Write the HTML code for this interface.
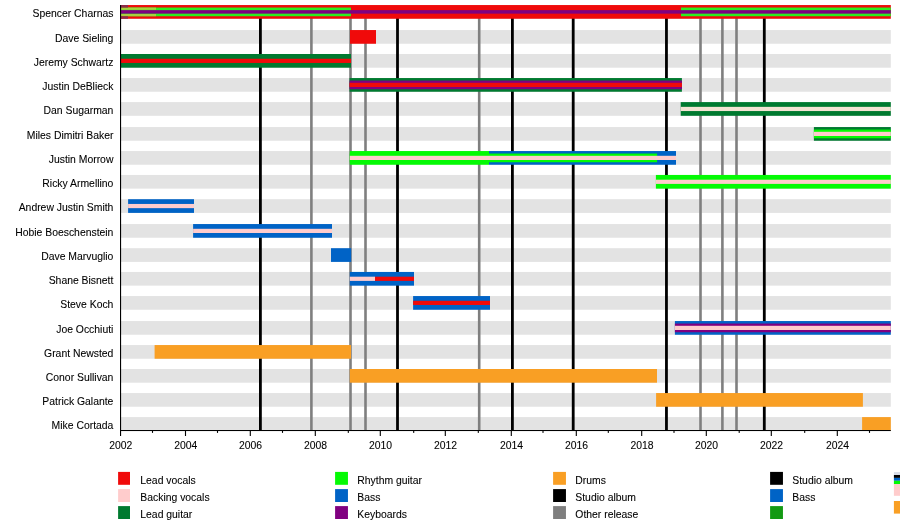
<!DOCTYPE html>
<html><head><meta charset="utf-8"><style>
html,body{margin:0;padding:0;background:#fff;width:900px;height:520px;overflow:hidden}
svg{display:block;will-change:transform}
text{font-family:"Liberation Sans",sans-serif;fill:#000;stroke:#000;stroke-width:0.08px}
</style></head><body>
<svg width="900" height="520" viewBox="0 0 900 520">
<rect x="0" y="0" width="900" height="520" fill="#fff"/>

<rect x="120.6" y="5.05" width="770.20" height="13.7" fill="#e3e3e3"/>
<rect x="120.6" y="30.05" width="770.20" height="13.7" fill="#e3e3e3"/>
<rect x="120.6" y="54.00" width="770.20" height="13.7" fill="#e3e3e3"/>
<rect x="120.6" y="78.05" width="770.20" height="13.7" fill="#e3e3e3"/>
<rect x="120.6" y="102.10" width="770.20" height="13.7" fill="#e3e3e3"/>
<rect x="120.6" y="127.05" width="770.20" height="13.7" fill="#e3e3e3"/>
<rect x="120.6" y="151.05" width="770.20" height="13.7" fill="#e3e3e3"/>
<rect x="120.6" y="174.95" width="770.20" height="13.7" fill="#e3e3e3"/>
<rect x="120.6" y="199.20" width="770.20" height="13.7" fill="#e3e3e3"/>
<rect x="120.6" y="224.05" width="770.20" height="13.7" fill="#e3e3e3"/>
<rect x="120.6" y="248.20" width="770.20" height="13.7" fill="#e3e3e3"/>
<rect x="120.6" y="271.95" width="770.20" height="13.7" fill="#e3e3e3"/>
<rect x="120.6" y="296.05" width="770.20" height="13.7" fill="#e3e3e3"/>
<rect x="120.6" y="321.05" width="770.20" height="13.7" fill="#e3e3e3"/>
<rect x="120.6" y="345.05" width="770.20" height="13.7" fill="#e3e3e3"/>
<rect x="120.6" y="369.00" width="770.20" height="13.7" fill="#e3e3e3"/>
<rect x="120.6" y="393.05" width="770.20" height="13.7" fill="#e3e3e3"/>
<rect x="120.6" y="417.10" width="770.20" height="13.7" fill="#e3e3e3"/>
<rect x="310.10" y="18" width="2.6" height="412" fill="#7f7f7f"/>
<rect x="349.20" y="18" width="2.6" height="412" fill="#7f7f7f"/>
<rect x="364.20" y="18" width="2.6" height="412" fill="#7f7f7f"/>
<rect x="477.90" y="18" width="2.6" height="412" fill="#7f7f7f"/>
<rect x="699.20" y="18" width="2.6" height="412" fill="#7f7f7f"/>
<rect x="721.10" y="18" width="2.6" height="412" fill="#7f7f7f"/>
<rect x="735.20" y="18" width="2.6" height="412" fill="#7f7f7f"/>
<rect x="259.00" y="18" width="2.8" height="412" fill="#000"/>
<rect x="396.10" y="18" width="2.8" height="412" fill="#000"/>
<rect x="511.00" y="18" width="2.8" height="412" fill="#000"/>
<rect x="571.80" y="18" width="2.8" height="412" fill="#000"/>
<rect x="665.05" y="18" width="2.8" height="412" fill="#000"/>
<rect x="762.90" y="18" width="2.8" height="412" fill="#000"/>
<rect x="120.60" y="5.05" width="770.20" height="13.7" fill="#f00a0a"/>
<rect x="120.60" y="7.55" width="230.40" height="8.7" fill="#2cee1e"/>
<rect x="681.00" y="7.55" width="209.80" height="8.7" fill="#2cee1e"/>
<rect x="120.60" y="10.15" width="770.20" height="3.5" fill="#800080"/>
<rect x="350.00" y="30.05" width="26.00" height="13.7" fill="#f00a0a"/>
<rect x="120.60" y="54.00" width="230.40" height="13.7" fill="#007a30"/>
<rect x="120.60" y="58.75" width="230.40" height="4.2" fill="#f00a0a"/>
<rect x="349.50" y="78.05" width="332.40" height="13.7" fill="#007a30"/>
<rect x="349.50" y="80.55" width="332.40" height="8.7" fill="#800080"/>
<rect x="349.50" y="82.80" width="332.40" height="4.2" fill="#f00a0a"/>
<rect x="680.70" y="102.10" width="210.10" height="13.7" fill="#007a30"/>
<rect x="680.70" y="106.85" width="210.10" height="4.2" fill="#f4e4d4"/>
<rect x="813.90" y="127.05" width="76.90" height="13.7" fill="#007a30"/>
<rect x="813.90" y="129.55" width="76.90" height="8.7" fill="#04fa04"/>
<rect x="813.90" y="131.80" width="76.90" height="4.2" fill="#ffcccc"/>
<rect x="349.80" y="151.05" width="139.20" height="13.7" fill="#04fa04"/>
<rect x="489.00" y="151.05" width="187.00" height="13.7" fill="#0063c6"/>
<rect x="349.80" y="153.55" width="307.30" height="8.7" fill="#04fa04"/>
<rect x="349.80" y="155.80" width="326.20" height="4.2" fill="#ffcccc"/>
<rect x="655.90" y="174.95" width="234.90" height="13.7" fill="#04fa04"/>
<rect x="655.90" y="179.70" width="234.90" height="4.2" fill="#ffcccc"/>
<rect x="128.10" y="199.20" width="65.90" height="13.7" fill="#0063c6"/>
<rect x="128.10" y="203.95" width="65.90" height="4.2" fill="#ffcccc"/>
<rect x="193.10" y="224.05" width="138.90" height="13.7" fill="#0063c6"/>
<rect x="193.10" y="228.80" width="138.90" height="4.2" fill="#ffcccc"/>
<rect x="331.00" y="248.20" width="20.20" height="13.7" fill="#0063c6"/>
<rect x="349.80" y="271.95" width="64.20" height="13.7" fill="#0063c6"/>
<rect x="349.80" y="276.70" width="25.20" height="4.2" fill="#ffcccc"/>
<rect x="375.00" y="276.70" width="39.00" height="4.2" fill="#f00a0a"/>
<rect x="413.10" y="296.05" width="76.90" height="13.7" fill="#0063c6"/>
<rect x="413.10" y="300.80" width="76.90" height="4.2" fill="#f00a0a"/>
<rect x="674.90" y="321.05" width="215.90" height="13.7" fill="#0063c6"/>
<rect x="674.90" y="323.55" width="215.90" height="8.7" fill="#800080"/>
<rect x="674.90" y="325.80" width="215.90" height="4.2" fill="#ffcccc"/>
<rect x="154.60" y="345.05" width="196.40" height="13.7" fill="#f99f24"/>
<rect x="349.80" y="369.00" width="307.20" height="13.7" fill="#f99f24"/>
<rect x="656.10" y="393.05" width="206.80" height="13.7" fill="#f99f24"/>
<rect x="862.10" y="417.10" width="28.70" height="13.7" fill="#f99f24"/>
<rect x="121" y="7.55" width="35" height="2.25" fill="#a8d03e"/>
<rect x="121" y="14.00" width="35" height="2.25" fill="#a8d03e"/>
<rect x="121" y="5.05" width="7" height="2.50" fill="#8a2c4a"/>
<rect x="121" y="16.25" width="7" height="2.50" fill="#8a2c4a"/>
<rect x="120" y="5.05" width="1.1" height="430.95" fill="#000"/>
<rect x="120" y="430" width="770.80" height="1.05" fill="#000"/>
<text x="120.85" y="449" font-size="10.4" text-anchor="middle">2002</text>
<rect x="151.95" y="430" width="1.1" height="2.9" fill="#000"/>
<rect x="184.95" y="430" width="1.1" height="6" fill="#000"/>
<text x="185.80" y="449" font-size="10.4" text-anchor="middle">2004</text>
<rect x="216.95" y="430" width="1.1" height="2.9" fill="#000"/>
<rect x="249.75" y="430" width="1.1" height="6" fill="#000"/>
<text x="250.60" y="449" font-size="10.4" text-anchor="middle">2006</text>
<rect x="281.95" y="430" width="1.1" height="2.9" fill="#000"/>
<rect x="314.75" y="430" width="1.1" height="6" fill="#000"/>
<text x="315.60" y="449" font-size="10.4" text-anchor="middle">2008</text>
<rect x="347.75" y="430" width="1.1" height="2.9" fill="#000"/>
<rect x="379.75" y="430" width="1.1" height="6" fill="#000"/>
<text x="380.60" y="449" font-size="10.4" text-anchor="middle">2010</text>
<rect x="413.15" y="430" width="1.1" height="2.9" fill="#000"/>
<rect x="444.75" y="430" width="1.1" height="6" fill="#000"/>
<text x="445.60" y="449" font-size="10.4" text-anchor="middle">2012</text>
<rect x="477.75" y="430" width="1.1" height="2.9" fill="#000"/>
<rect x="510.75" y="430" width="1.1" height="6" fill="#000"/>
<text x="511.60" y="449" font-size="10.4" text-anchor="middle">2014</text>
<rect x="542.45" y="430" width="1.1" height="2.9" fill="#000"/>
<rect x="575.75" y="430" width="1.1" height="6" fill="#000"/>
<text x="576.60" y="449" font-size="10.4" text-anchor="middle">2016</text>
<rect x="607.75" y="430" width="1.1" height="2.9" fill="#000"/>
<rect x="641.15" y="430" width="1.1" height="6" fill="#000"/>
<text x="642.00" y="449" font-size="10.4" text-anchor="middle">2018</text>
<rect x="673.45" y="430" width="1.1" height="2.9" fill="#000"/>
<rect x="705.75" y="430" width="1.1" height="6" fill="#000"/>
<text x="706.60" y="449" font-size="10.4" text-anchor="middle">2020</text>
<rect x="738.65" y="430" width="1.1" height="2.9" fill="#000"/>
<rect x="770.75" y="430" width="1.1" height="6" fill="#000"/>
<text x="771.60" y="449" font-size="10.4" text-anchor="middle">2022</text>
<rect x="804.15" y="430" width="1.1" height="2.9" fill="#000"/>
<rect x="836.75" y="430" width="1.1" height="6" fill="#000"/>
<text x="837.60" y="449" font-size="10.4" text-anchor="middle">2024</text>
<rect x="868.95" y="430" width="1.1" height="2.9" fill="#000"/>
<text x="113.4" y="16.60" font-size="10.4" text-anchor="end">Spencer Charnas</text>
<text x="113.4" y="41.60" font-size="10.4" text-anchor="end">Dave Sieling</text>
<text x="113.4" y="65.55" font-size="10.4" text-anchor="end">Jeremy Schwartz</text>
<text x="113.4" y="89.60" font-size="10.4" text-anchor="end">Justin DeBlieck</text>
<text x="113.4" y="113.65" font-size="10.4" text-anchor="end">Dan Sugarman</text>
<text x="113.4" y="138.60" font-size="10.4" text-anchor="end">Miles Dimitri Baker</text>
<text x="113.4" y="162.60" font-size="10.4" text-anchor="end">Justin Morrow</text>
<text x="113.4" y="186.50" font-size="10.4" text-anchor="end">Ricky Armellino</text>
<text x="113.4" y="210.75" font-size="10.4" text-anchor="end">Andrew Justin Smith</text>
<text x="113.4" y="235.60" font-size="10.4" text-anchor="end">Hobie Boeschenstein</text>
<text x="113.4" y="259.75" font-size="10.4" text-anchor="end">Dave Marvuglio</text>
<text x="113.4" y="283.50" font-size="10.4" text-anchor="end">Shane Bisnett</text>
<text x="113.4" y="307.60" font-size="10.4" text-anchor="end">Steve Koch</text>
<text x="113.4" y="332.60" font-size="10.4" text-anchor="end">Joe Occhiuti</text>
<text x="113.4" y="356.60" font-size="10.4" text-anchor="end">Grant Newsted</text>
<text x="113.4" y="380.55" font-size="10.4" text-anchor="end">Conor Sullivan</text>
<text x="113.4" y="404.60" font-size="10.4" text-anchor="end">Patrick Galante</text>
<text x="113.4" y="428.65" font-size="10.4" text-anchor="end">Mike Cortada</text>
<rect x="118.1" y="471.9" width="11.9" height="12.9" fill="#f00a0a"/>
<text x="140.3" y="483.9" font-size="10.4">Lead vocals</text>
<rect x="118.1" y="489.1" width="11.9" height="12.9" fill="#ffcccc"/>
<text x="140.3" y="501.1" font-size="10.4">Backing vocals</text>
<rect x="118.1" y="506.1" width="11.9" height="12.9" fill="#007a30"/>
<text x="140.3" y="518.1" font-size="10.4">Lead guitar</text>
<rect x="335.1" y="471.9" width="12.85" height="12.9" fill="#04fa04"/>
<text x="357.3" y="483.9" font-size="10.4">Rhythm guitar</text>
<rect x="335.1" y="489.1" width="12.85" height="12.9" fill="#0063c6"/>
<text x="357.3" y="501.1" font-size="10.4">Bass</text>
<rect x="335.1" y="506.1" width="12.85" height="12.9" fill="#800080"/>
<text x="357.3" y="518.1" font-size="10.4">Keyboards</text>
<rect x="553.1" y="471.9" width="12.85" height="12.9" fill="#f99f24"/>
<text x="575.3" y="483.9" font-size="10.4">Drums</text>
<rect x="553.1" y="489.1" width="12.85" height="12.9" fill="#000"/>
<text x="575.3" y="501.1" font-size="10.4">Studio album</text>
<rect x="553.1" y="506.1" width="12.85" height="12.9" fill="#7f7f7f"/>
<text x="575.3" y="518.1" font-size="10.4">Other release</text>
<rect x="770.1" y="471.9" width="12.85" height="12.9" fill="#000"/>
<text x="792.3" y="483.9" font-size="10.4">Studio album</text>
<rect x="770.1" y="489.1" width="12.85" height="12.9" fill="#0063c6"/>
<text x="792.3" y="501.1" font-size="10.4">Bass</text>
<rect x="770.1" y="506.1" width="12.85" height="12.9" fill="#139a13"/>
<rect x="893.9" y="472.1" width="7" height="2.9" fill="#d8dce6"/>
<rect x="893.9" y="475" width="7" height="2.9" fill="#000"/>
<rect x="893.9" y="477.9" width="7" height="2.9" fill="#0063c6"/>
<rect x="893.9" y="480.8" width="7" height="3.2" fill="#04fa04"/>
<rect x="893.9" y="484" width="7" height="11.8" fill="#ffcccc"/>
<rect x="893.9" y="501" width="7" height="12.6" fill="#f99f24"/>
</svg></body></html>
